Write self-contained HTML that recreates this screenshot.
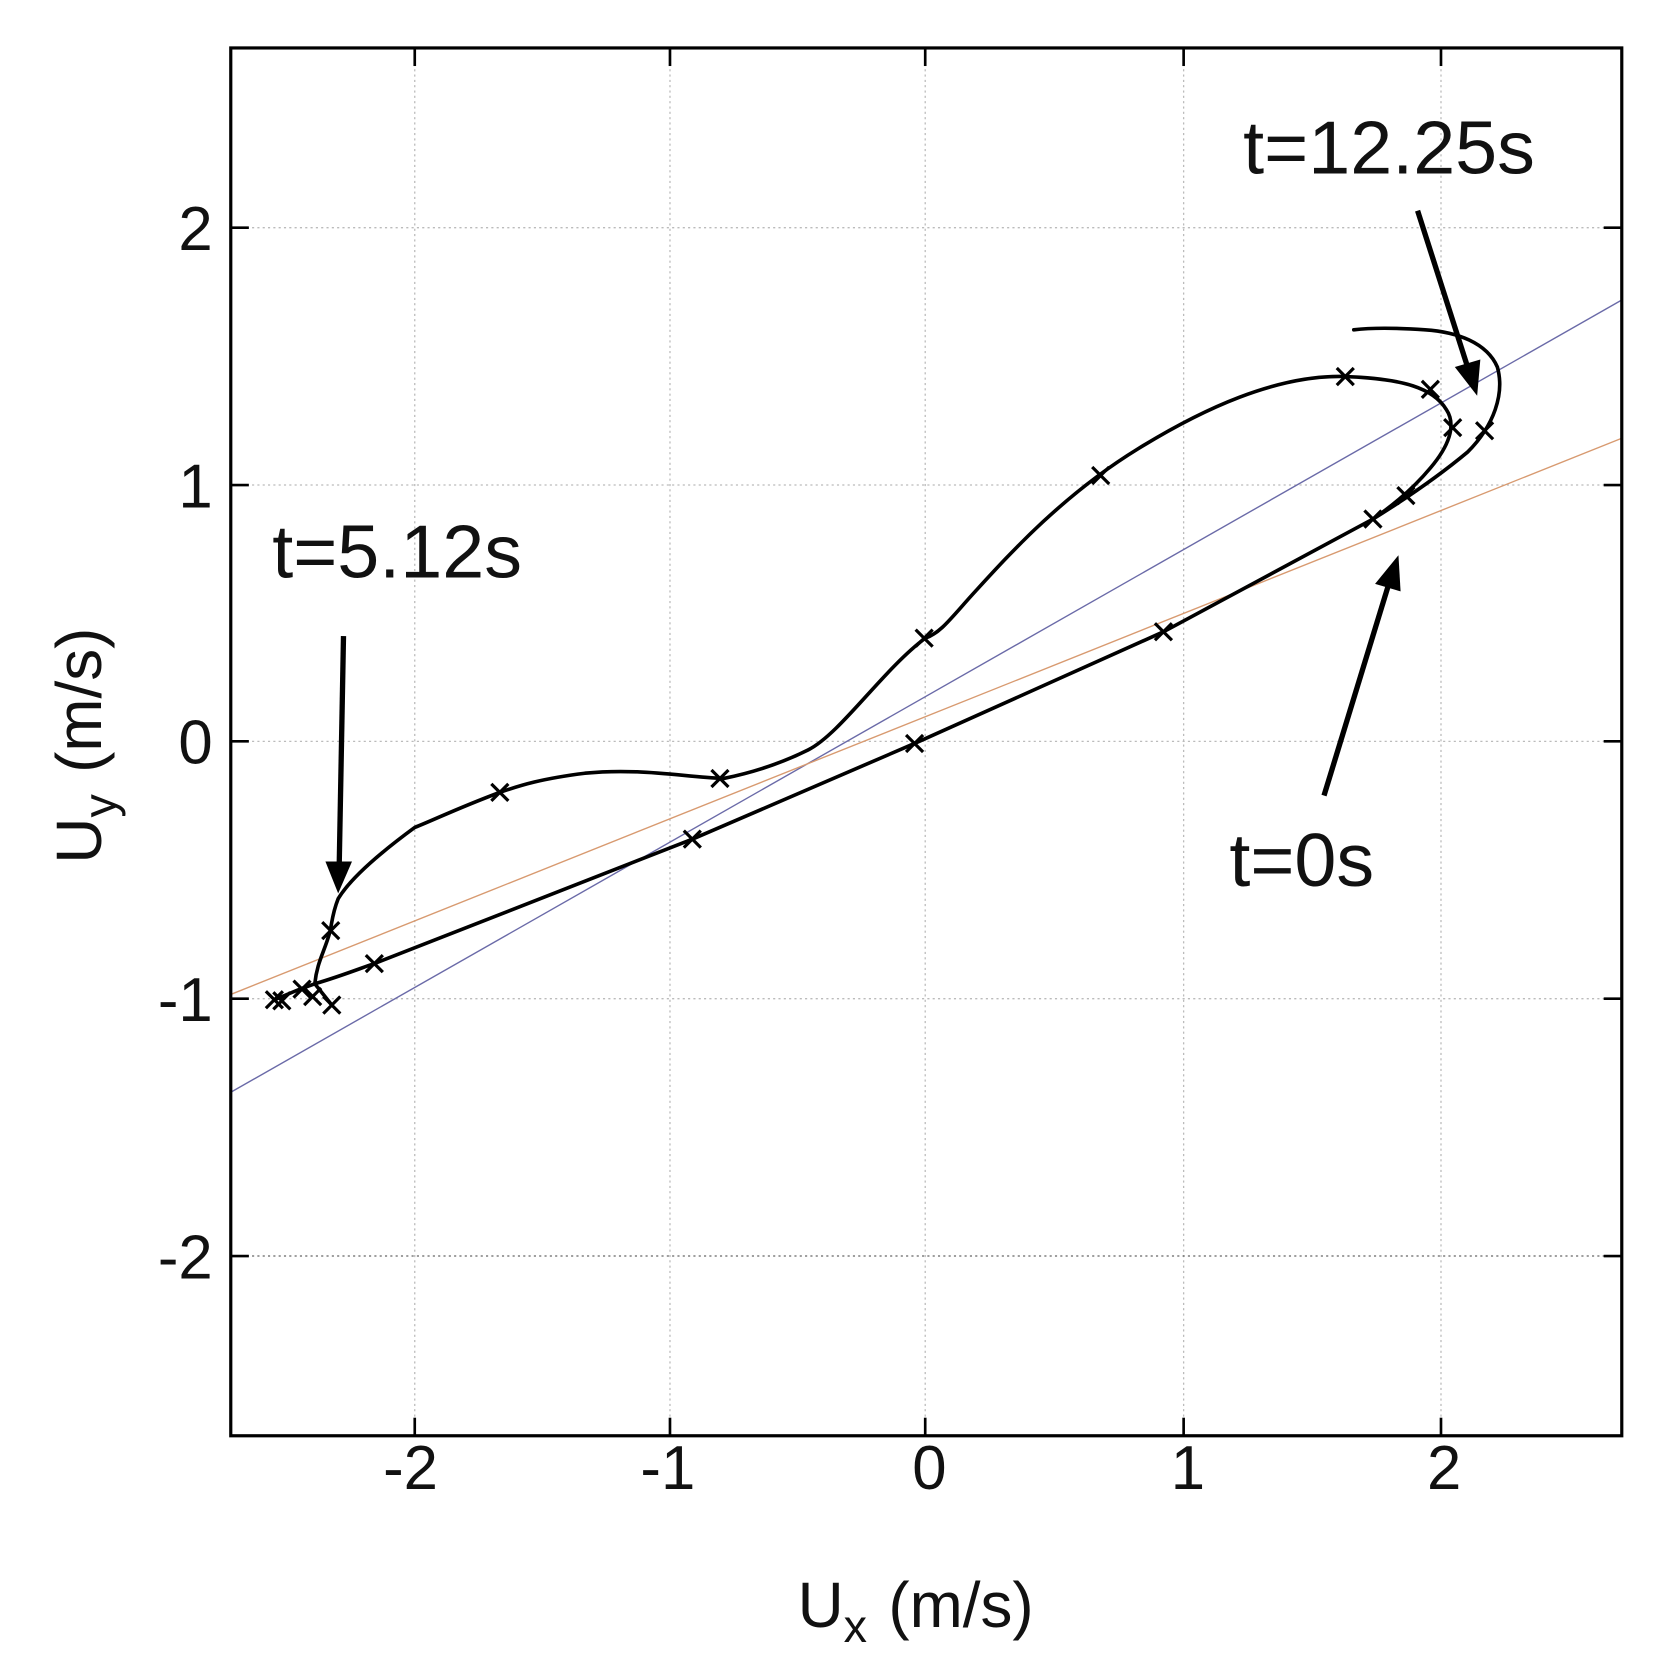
<!DOCTYPE html>
<html><head><meta charset="utf-8"><style>
html,body{margin:0;padding:0;background:#fff;}
svg{display:block;}
text{font-family:"Liberation Sans",Arial,sans-serif;fill:#111;}
</style></head><body>
<svg width="1659" height="1656" viewBox="0 0 1560 1557" xmlns="http://www.w3.org/2000/svg">
<rect width="1560" height="1557" fill="#fff"/>
<g stroke="#bbb" stroke-width="1.2" stroke-dasharray="2,3">
<line x1="390" y1="45" x2="390" y2="1350"/>
<line x1="630" y1="45" x2="630" y2="1350"/>
<line x1="870" y1="45" x2="870" y2="1350"/>
<line x1="1113" y1="45" x2="1113" y2="1350"/>
<line x1="1355" y1="45" x2="1355" y2="1350"/>
<line x1="217" y1="214" x2="1525" y2="214"/>
<line x1="217" y1="456" x2="1525" y2="456"/>
<line x1="217" y1="697" x2="1525" y2="697"/>
<line x1="217" y1="939" x2="1525" y2="939"/>
<line x1="217" y1="1181" x2="1525" y2="1181" stroke="#666"/>
</g>
<line x1="217" y1="1027" x2="1525" y2="282" stroke="#6a6aa8" stroke-width="1.3"/>
<line x1="217" y1="935" x2="1525" y2="412" stroke="#d89a70" stroke-width="1.3"/>
<g fill="none" stroke="#000" stroke-width="3.4" stroke-linejoin="round" stroke-linecap="round">
<path d="M258,940 L282,930 L296,925 C320,918 340,910 352,906 L651,789 L860,699 L1094,594 L1291,488 C1320,470 1350,450 1380,425 C1405,400 1415,370 1408,345 C1398,322 1370,312 1340,310 C1310,308 1290,308 1273,310"/>
<path d="M1291,488 C1310,475 1330,458 1345,440 C1362,420 1370,400 1360,385 C1348,365 1320,356 1265,354 C1200,352 1130,385 1070,422 C1000,465 950,520 918,555 C895,580 885,595 870,600 C830,630 790,690 760,705 C730,720 700,728 680,732 C640,730 600,722 550,727 C510,732 490,738 470,745 C430,760 410,770 390,778 C360,800 330,825 318,845 C312,860 312,870 310,877 C305,895 298,905 296,925 L312,945"/>
</g>
<g stroke="#000" stroke-width="3">
<path d="M-8,-8L8,8M-8,8L8,-8" transform="translate(258,940)"/>
<path d="M-8,-8L8,8M-8,8L8,-8" transform="translate(265,941)"/>
<path d="M-8,-8L8,8M-8,8L8,-8" transform="translate(284,930)"/>
<path d="M-8,-8L8,8M-8,8L8,-8" transform="translate(294,937)"/>
<path d="M-8,-8L8,8M-8,8L8,-8" transform="translate(312,945)"/>
<path d="M-8,-8L8,8M-8,8L8,-8" transform="translate(352,906)"/>
<path d="M-8,-8L8,8M-8,8L8,-8" transform="translate(651,789)"/>
<path d="M-8,-8L8,8M-8,8L8,-8" transform="translate(860,699)"/>
<path d="M-8,-8L8,8M-8,8L8,-8" transform="translate(1094,594)"/>
<path d="M-8,-8L8,8M-8,8L8,-8" transform="translate(1291,488)"/>
<path d="M-8,-8L8,8M-8,8L8,-8" transform="translate(1322,466)"/>
<path d="M-8,-8L8,8M-8,8L8,-8" transform="translate(1366,402)"/>
<path d="M-8,-8L8,8M-8,8L8,-8" transform="translate(1396,405)"/>
<path d="M-8,-8L8,8M-8,8L8,-8" transform="translate(1345,366)"/>
<path d="M-8,-8L8,8M-8,8L8,-8" transform="translate(1265,354)"/>
<path d="M-8,-8L8,8M-8,8L8,-8" transform="translate(1035,447)"/>
<path d="M-8,-8L8,8M-8,8L8,-8" transform="translate(869,600)"/>
<path d="M-8,-8L8,8M-8,8L8,-8" transform="translate(677,732)"/>
<path d="M-8,-8L8,8M-8,8L8,-8" transform="translate(470,745)"/>
<path d="M-8,-8L8,8M-8,8L8,-8" transform="translate(311,875)"/>
</g>
<g stroke="#000" stroke-width="5" fill="#000">
<line x1="1333" y1="198" x2="1380" y2="345"/>
<polygon points="1389,372 1368,345 1392,338" stroke="none"/>
<line x1="323" y1="598" x2="319" y2="812"/>
<polygon points="318,840 306,810 331,810" stroke="none"/>
<line x1="1245" y1="748" x2="1305" y2="552"/>
<polygon points="1315,522 1317,556 1293,549" stroke="none"/>
</g>
<rect x="217" y="45" width="1308" height="1305" fill="none" stroke="#000" stroke-width="3"/>
<g stroke="#000" stroke-width="2.5">
<line x1="390" y1="1350" x2="390" y2="1333"/><line x1="630" y1="1350" x2="630" y2="1333"/><line x1="870" y1="1350" x2="870" y2="1333"/><line x1="1113" y1="1350" x2="1113" y2="1333"/><line x1="1355" y1="1350" x2="1355" y2="1333"/>
<line x1="390" y1="45" x2="390" y2="62"/><line x1="630" y1="45" x2="630" y2="62"/><line x1="870" y1="45" x2="870" y2="62"/><line x1="1113" y1="45" x2="1113" y2="62"/><line x1="1355" y1="45" x2="1355" y2="62"/>
<line x1="217" y1="214" x2="234" y2="214"/><line x1="217" y1="456" x2="234" y2="456"/><line x1="217" y1="697" x2="234" y2="697"/><line x1="217" y1="939" x2="234" y2="939"/><line x1="217" y1="1181" x2="234" y2="1181"/>
<line x1="1525" y1="214" x2="1508" y2="214"/><line x1="1525" y1="456" x2="1508" y2="456"/><line x1="1525" y1="697" x2="1508" y2="697"/><line x1="1525" y1="939" x2="1508" y2="939"/><line x1="1525" y1="1181" x2="1508" y2="1181"/>
</g>
<g font-size="58" text-anchor="middle">
<text x="386" y="1400">-2</text><text x="628" y="1400">-1</text><text x="874" y="1400">0</text><text x="1117" y="1400">1</text><text x="1358" y="1400">2</text>
</g>
<g font-size="58" text-anchor="end">
<text x="200" y="235">2</text><text x="200" y="477">1</text><text x="200" y="718">0</text><text x="200" y="960">-1</text><text x="200" y="1202">-2</text>
</g>
<text x="750" y="1530" font-size="60">U<tspan font-size="44" dy="14">x</tspan><tspan dy="-14" dx="20">(m/s)</tspan></text>
<text transform="translate(95,812) rotate(-90)" font-size="60">U<tspan font-size="44" dy="14">y</tspan><tspan dy="-14" dx="20">(m/s)</tspan></text>
<text x="1169" y="163" font-size="71">t=12.25s</text>
<text x="256" y="543" font-size="71">t=5.12s</text>
<text x="1156" y="833" font-size="71">t=0s</text>
</svg>
</body></html>
